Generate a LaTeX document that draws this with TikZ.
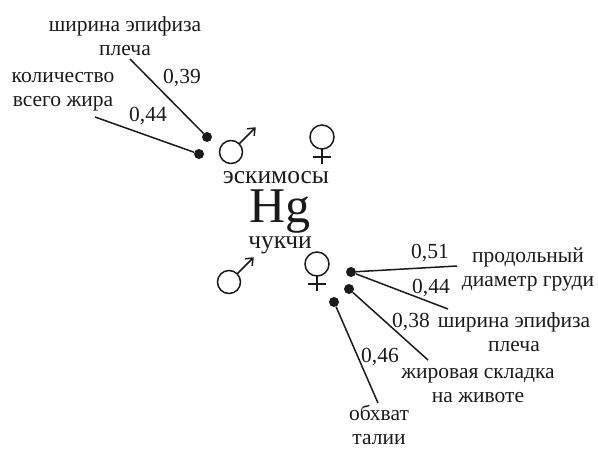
\documentclass[tikz,border=0pt]{standalone}
\usepackage{fontspec}
\setmainfont{Liberation Serif}
\usetikzlibrary{arrows.meta}
\definecolor{InkBlack}{HTML}{1A1A1A}
\tikzset{
  lbl/.style={font=\fontsize{21.5}{24}\selectfont,align=center,inner sep=0pt,
              text=InkBlack},
  num/.style={font=\fontsize{21.5}{24}\selectfont,inner sep=0pt,text=InkBlack},
  grp/.style={font=\fontsize{25.5}{26}\selectfont,inner sep=0pt,anchor=base,
              text=InkBlack},
  dotn/.style={circle,fill=InkBlack,inner sep=0pt,minimum size=10pt},
  conn/.style={line width=1.5pt,draw=InkBlack},
  sym/.style={line width=1.5pt,draw=InkBlack},
  male/.pic={\draw[sym] (0,0) circle (11.5);
             \draw[sym,-{Straight Barb[length=6pt,width=10pt]}]
               (-45:11.5) -- (-45:35);},
  female/.pic={\draw[sym] (0,0) circle (12);
               \draw[sym] (0,12) -- (0,27) (-9,20) -- (9,20);},
}

\begin{document}
\begin{tikzpicture}[x=1pt,y=-1pt]
  \useasboundingbox (0,0) rectangle (598,448);

  % eskimos
  \node[lbl] (shirTop) at (125,36) {ширина эпифиза\\плеча};
  \node[lbl] (kolTop) at (63,92) {количество\\всего жира};
  \node[num] (n039) at (182,78) {0,39};
  \node[num] (n044a) at (148,116) {0,44};
  \node[dotn] (dShir) at (207,137) {};
  \node[dotn] (dKol) at (199,154) {};
  \coordinate (eShir) at (130,59);
  \coordinate (eKol) at (95,117);
  \draw[conn] (dShir) -- (eShir);
  \draw[conn] (dKol) -- (eKol);

  \pic at (231,152) {male};
  \pic at (322,137) {female};

  % centre
  \node[grp,text height=11pt,text depth=0pt] (eskimo) at (276,183) {эскимосы};
  \node[font=\fontsize{50}{50}\selectfont,anchor=base,inner sep=0pt,
        text height=33pt,text depth=9pt,text=InkBlack] (hg) at (280,222) {Hg};
  \node[grp,text height=11pt,text depth=0pt] (chukchi) at (280,248) {чукчи};

  \pic at (229,282) {male};
  \pic at (317,264) {female};

  % chukchi
  \node[lbl] (prod) at (528,269) {продольный\\диаметр груди};
  \node[lbl] (shirBot) at (514,332) {ширина эпифиза\\плеча};
  \node[lbl] (zhir) at (478,386) {жировая складка\\на животе};
  \node[lbl] (obh) at (379,425) {обхват\\талии};
  \node[num] (n051) at (430,253) {0,51};
  \node[num] (n044b) at (431,288) {0,44};
  \node[num] (n038) at (411,322) {0,38};
  \node[num] (n046) at (380,357) {0,46};
  \node[dotn] (dA) at (351,272) {};
  \node[dotn] (dB) at (349,289) {};
  \node[dotn] (dC) at (334,302) {};
  \coordinate (eProd) at (457,266);
  \coordinate (eShirBot) at (448,309);
  \coordinate (eZhir) at (428,360);
  \coordinate (eObh) at (378,403);
  \draw[conn] (dA) -- (eProd);
  \draw[conn] (dA) -- (eShirBot);
  \draw[conn] (dB) -- (eZhir);
  \draw[conn] (dC) -- (eObh);

\end{tikzpicture}
\end{document}
